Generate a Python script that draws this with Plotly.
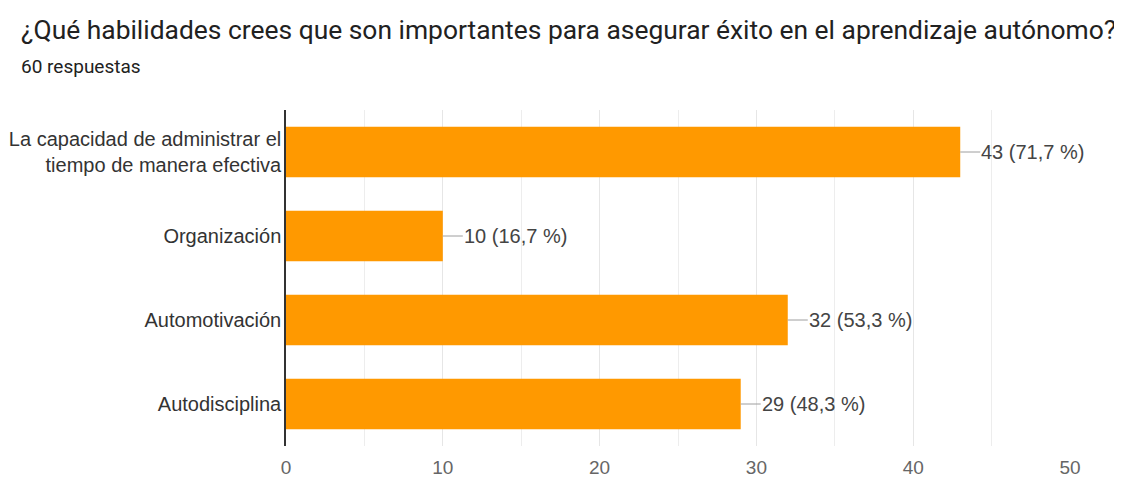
import plotly.graph_objects as go

categories = [
    "La capacidad de administrar el<br>tiempo de manera efectiva",
    "Organización",
    "Automotivación",
    "Autodisciplina",
]
counts = [43, 10, 32, 29]
percents = ["71,7", "16,7", "53,3", "48,3"]
total_responses = 60
x_ticks = [0, 10, 20, 30, 40, 50]

title = "¿Qué habilidades crees que son importantes para asegurar éxito en el aprendizaje autónomo?"
subtitle = f"{total_responses} respuestas"

W, H = 1122, 478
# page body adds ~8px offset; margins are compensated for it
ML, MR, MT, MB = 278, 60, 102, 40

fig = go.Figure(
    go.Bar(
        y=categories,
        x=counts,
        orientation="h",
        marker=dict(color="#FF9900", line=dict(width=0)),
        width=0.6,
        hoverinfo="skip",
    )
)

plot_h = H - MT - MB
plot_w = W - ML - MR
def px_to_paper(xp, yp):
    return (xp - ML) / plot_w, (H - MB - yp) / plot_h

for cat, c, p in zip(categories, counts, percents):
    fig.add_annotation(
        x=c, y=cat, xref="x", yref="y",
        text=f"{c} ({p} %)",
        showarrow=True, arrowhead=0, arrowwidth=1, arrowcolor="#9e9e9e",
        ax=20, ay=0, xanchor="left", borderpad=0,
        font=dict(family="Liberation Sans, Arial, sans-serif", size=20, color="#444444"),
    )

tx, ty = px_to_paper(11, 22)
fig.add_annotation(
    x=tx, y=ty, xref="paper", yref="paper", xanchor="left", yanchor="middle",
    text=title, showarrow=False,
    font=dict(family="Roboto, sans-serif", size=26.4, color="#212121"),
)
sx, sy = px_to_paper(11, 58)
fig.add_annotation(
    x=sx, y=sy, xref="paper", yref="paper", xanchor="left", yanchor="middle",
    text=subtitle, showarrow=False,
    font=dict(family="Roboto, sans-serif", size=19, color="#212121"),
)

fig.update_layout(
    width=W, height=H,
    margin=dict(l=ML, r=MR, t=MT, b=MB, autoexpand=False),
    paper_bgcolor="white", plot_bgcolor="white",
    showlegend=False,
)

fig.update_xaxes(
    range=[0, 50], tickvals=x_ticks, ticktext=[str(v) for v in x_ticks],
    showgrid=True, gridcolor="#e6e6e6", gridwidth=1,
    minor=dict(dtick=5, showgrid=True, gridcolor="#ededed", gridwidth=1),
    zeroline=False, showline=False, ticks="",
    ticklabelstandoff=8,
    tickfont=dict(family="Liberation Sans, Arial, sans-serif", size=19, color="#666666"),
    automargin=False, fixedrange=True,
)
fig.update_yaxes(
    autorange="reversed", showgrid=False, zeroline=False,
    showline=True, linecolor="#333333", linewidth=1.5, ticks="",
    ticklabelstandoff=-1, automargin=False,
    tickfont=dict(family="Liberation Sans, Arial, sans-serif", size=20, color="#333333"),
    fixedrange=True,
)

fig.write_html("out.html")
